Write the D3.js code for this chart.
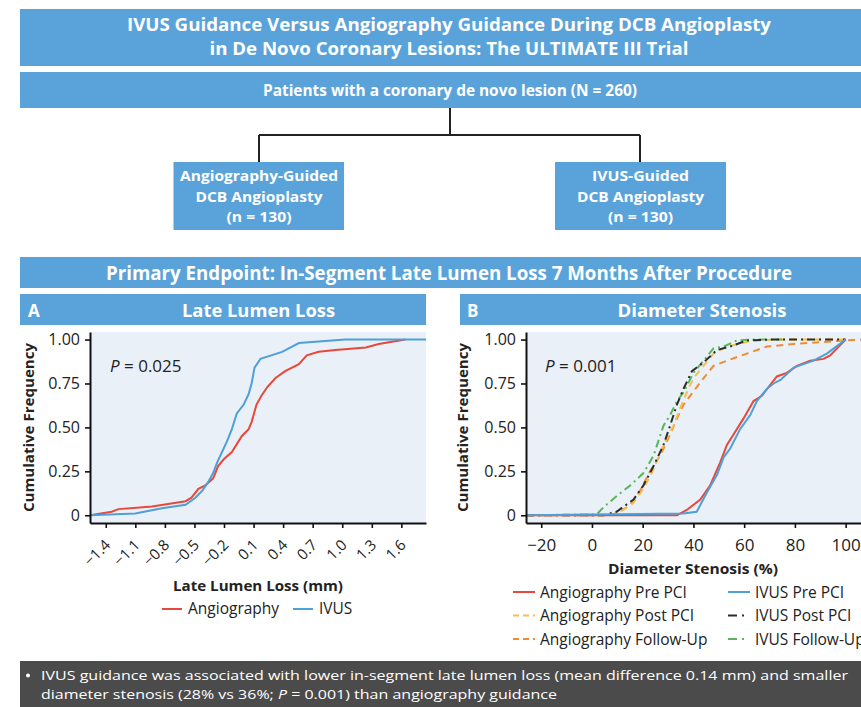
<!DOCTYPE html>
<html>
<head>
<meta charset="utf-8">
<script src="https://cdn.jsdelivr.net/npm/d3@7"></script>
<style>
  html, body { margin: 0; padding: 0; background: #fff; }
  svg { display: block; }
</style>
</head>
<body>
<div id="chart"></div>
<script>
// ---------------- DATA ----------------
// Panel A: Late lumen loss (mm) cumulative frequency
const llTicks = [-1.4, -1.1, -0.8, -0.5, -0.2, 0.1, 0.4, 0.7, 1.0, 1.3, 1.6];
const llAngiography = [
  [-1.56, 0], [-1.34, 0.02], [-1.27, 0.035], [-0.93, 0.05], [-0.59, 0.08], [-0.53, 0.10],
  [-0.46, 0.15], [-0.39, 0.17], [-0.31, 0.21], [-0.26, 0.28], [-0.20, 0.32], [-0.12, 0.36],
  [-0.02, 0.45], [0.05, 0.49], [0.08, 0.53], [0.13, 0.63], [0.18, 0.68], [0.24, 0.73],
  [0.32, 0.78], [0.42, 0.82], [0.56, 0.86], [0.64, 0.91], [0.76, 0.93], [0.93, 0.94],
  [1.24, 0.955], [1.37, 0.975], [1.64, 1.0]
];
const llIVUS = [
  [-1.56, 0], [-1.10, 0.01], [-0.83, 0.04], [-0.59, 0.06], [-0.49, 0.10], [-0.42, 0.14],
  [-0.36, 0.19], [-0.31, 0.24], [-0.27, 0.30], [-0.22, 0.36], [-0.17, 0.42], [-0.12, 0.49],
  [-0.07, 0.58], [0.00, 0.63], [0.05, 0.69], [0.08, 0.75], [0.11, 0.84], [0.17, 0.89],
  [0.39, 0.93], [0.56, 0.98], [1.03, 1.0], [1.85, 1.0]
];
const llSeries = ["Angiography", "IVUS"];

// Panel B: Diameter stenosis (%) cumulative frequency
const dsTicks = [-20, 0, 20, 40, 60, 80, 100];
const angioPre = [
  [-26, 0], [33.5, 0], [37.4, 0.03], [42.7, 0.09], [46.6, 0.17], [50.5, 0.30], [53.2, 0.40],
  [55.8, 0.46], [59.7, 0.55], [63.7, 0.65], [67, 0.68], [69.6, 0.73], [72.9, 0.79],
  [76.8, 0.81], [80.8, 0.85], [86, 0.88], [91.3, 0.89], [93.9, 0.91], [100, 1.0]
];
const ivusPre = [
  [-26, 0], [36, 0.01], [41.3, 0.02], [45.3, 0.13], [49.3, 0.23], [51.9, 0.33], [54.5, 0.38],
  [58.4, 0.49], [62.4, 0.57], [65, 0.65], [69, 0.72], [71.6, 0.75], [74.3, 0.77],
  [79.5, 0.84], [83.4, 0.86], [87.3, 0.88], [92.6, 0.92], [100, 1.0]
];
const angioPost = [
  [-26, 0], [8.4, 0.005], [12.3, 0.03], [16.3, 0.07], [20.3, 0.15], [24.2, 0.26], [28.2, 0.40],
  [32.2, 0.51], [34.8, 0.61], [37.4, 0.70], [40, 0.78], [44, 0.85], [47.9, 0.92],
  [53.2, 0.96], [63.7, 0.995], [75, 1.0], [100, 1.0]
];
const angioFollow = [
  [-26, 0], [7.2, 0], [11.1, 0.02], [15.1, 0.06], [19, 0.14], [22.9, 0.25], [26.9, 0.34],
  [30.8, 0.46], [33.5, 0.55], [36.1, 0.63], [38.7, 0.68], [44, 0.78], [47.9, 0.85],
  [53.2, 0.88], [61, 0.92], [68.9, 0.96], [79.5, 0.975], [90, 0.985], [103, 0.998], [110, 1.0]
];
const ivusPost = [
  [-26, 0], [4.5, 0], [9.7, 0.02], [16.4, 0.09], [20.3, 0.17], [24.3, 0.28], [28.2, 0.40],
  [30.8, 0.51], [33.5, 0.63], [36.1, 0.72], [39.4, 0.82], [44, 0.87], [49.2, 0.94],
  [54.4, 0.96], [61, 0.995], [70, 1.0], [100, 1.0]
];
const ivusFollow = [
  [-26, 0], [1.9, 0.005], [4.5, 0.045], [9.8, 0.11], [15.1, 0.17], [20.3, 0.24], [24.3, 0.34],
  [28.2, 0.51], [30.8, 0.57], [33.5, 0.65], [36.1, 0.70], [40, 0.81], [44, 0.88],
  [47.9, 0.95], [51.9, 0.96], [57.1, 0.995], [64, 1.0], [75, 1.0]
];
const dsSeriesNames = ["Angiography Pre PCI", "IVUS Pre PCI", "Angiography Post PCI",
  "IVUS Post PCI", "Angiography Follow-Up", "IVUS Follow-Up"];
const freqTicks = [0, 0.25, 0.5, 0.75, 1.0];

// ---------------- STYLE ----------------
const BLUE = "#5aa3da";
const PLOTBG = "#eaf0f8";
const RED = "#e8483b", LBLUE = "#4f9fd8", YEL = "#f6bf4c", ORG = "#f08a33", DARK = "#2d2d2d", GRN = "#5ab55c";
const HFONT = "'Open Sans','Noto Sans',sans-serif";
const CFONT = "'Open Sans','Noto Sans',sans-serif";

const W = 861, H = 707;
const svg = d3.select("#chart").append("svg").attr("width", W).attr("height", H);

function box(x, y, w, h, fill) {
  svg.append("rect").attr("x", x).attr("y", y).attr("width", w).attr("height", h).attr("fill", fill);
}
function label(x, y, txt, size, len, opts = {}) {
  const t = svg.append("text").attr("x", x).attr("y", y)
    .attr("text-anchor", opts.anchor || "middle")
    .attr("font-family", opts.font || HFONT)
    .attr("font-weight", opts.weight || "bold")
    .attr("font-size", size).attr("fill", opts.fill || "#fff").text(txt);
  if (len) t.attr("textLength", len).attr("lengthAdjust", "spacingAndGlyphs");
  return t;
}

// ---------------- HEADER / FLOW ----------------
box(20, 9, 841, 57, BLUE);
label(449, 31, "IVUS Guidance Versus Angiography Guidance During DCB Angioplasty", 18, 644);
label(449, 55, "in De Novo Coronary Lesions: The ULTIMATE III Trial", 18, 479);

box(20, 72, 841, 36, BLUE);
label(450, 96, "Patients with a coronary de novo lesion (N = 260)", 16, 374);

svg.append("path").attr("d", "M450,108V135M259,135H640M259,135V162M640,135V162")
  .attr("stroke", "#222").attr("stroke-width", 2).attr("fill", "none");

box(173.5, 162, 170.5, 68, BLUE);
box(555, 162, 171, 68, BLUE);
label(259, 181, "Angiography-Guided", 14.5, 158);
label(259, 201.5, "DCB Angioplasty", 14.5, 127);
label(259, 221.5, "(n = 130)", 14.5, 65);
label(640.5, 181, "IVUS-Guided", 14.5, 97);
label(640.5, 201.5, "DCB Angioplasty", 14.5, 127);
label(640.5, 221.5, "(n = 130)", 14.5, 65);

box(20, 257, 841, 31, BLUE);
label(449, 280, "Primary Endpoint: In-Segment Late Lumen Loss 7 Months After Procedure", 19.5, 686);

// panel headers
box(20, 294, 406, 31, BLUE);
box(460, 294, 401, 31, BLUE);
label(28, 317, "A", 17, null, { anchor: "start", font: CFONT });
label(258.5, 317, "Late Lumen Loss", 17.5, 153, { font: CFONT });
label(467, 317, "B", 17, null, { anchor: "start", font: CFONT });
label(702, 317, "Diameter Stenosis", 17.5, 169, { font: CFONT });

// ---------------- PANEL A ----------------
const plotTop = 332, plotBot = 523;
const xA = d3.scaleLinear().domain([-1.56, 1.85]).range([90, 426]);
const yA = d3.scaleLinear().domain([-0.044, 1.043]).range([plotBot, plotTop]);

function plotBg(x0, x1, id) {
  svg.append("rect").attr("x", x0).attr("y", plotTop).attr("width", x1 - x0).attr("height", plotBot - plotTop)
    .attr("fill", PLOTBG);
  svg.append("clipPath").attr("id", id).append("rect")
    .attr("x", x0).attr("y", plotTop - 3).attr("width", x1 - x0).attr("height", plotBot - plotTop + 3);
}
plotBg(90, 426, "clipA");

const lineA = d3.line().x(d => xA(d[0])).y(d => yA(d[1]));
const gA = svg.append("g").attr("clip-path", "url(#clipA)");
gA.append("path").datum(llAngiography).attr("d", lineA).attr("fill", "none").attr("stroke", RED).attr("stroke-width", 2);
gA.append("path").datum(llIVUS).attr("d", lineA).attr("fill", "none").attr("stroke", LBLUE).attr("stroke-width", 2);

function styleAxis(g) {
  g.select(".domain").attr("stroke", "#111").attr("stroke-width", 2);
  g.selectAll(".tick line").attr("stroke", "#111").attr("stroke-width", 1.6);
  g.selectAll("text").attr("font-family", CFONT).attr("fill", "#222");
}
const fmtFreq = d => d === 0 ? "0" : d3.format(".2f")(d);

const yAxA = svg.append("g").attr("transform", "translate(90,0)")
  .call(d3.axisLeft(yA).tickValues(freqTicks).tickFormat(fmtFreq).tickSize(5).tickSizeOuter(0).tickPadding(5));
styleAxis(yAxA);
yAxA.selectAll("text").attr("font-size", 16);

const xAxA = svg.append("g").attr("transform", `translate(0,${plotBot})`)
  .call(d3.axisBottom(xA).tickValues(llTicks).tickFormat(d3.format(".1f")).tickSize(5).tickSizeOuter(0));
styleAxis(xAxA);
xAxA.selectAll("text").attr("font-size", 15).attr("text-anchor", "end")
  .attr("x", 0).attr("y", 0).attr("dy", 0)
  .attr("transform", "translate(5,23) rotate(-45)");

svg.append("text").attr("x", 110).attr("y", 372).attr("font-family", CFONT).attr("font-size", 17).attr("fill", "#222")
  .call(t => { t.append("tspan").attr("font-style", "italic").text("P"); t.append("tspan").text(" = 0.025"); });

svg.append("text").attr("transform", "translate(34,427.5) rotate(-90)").attr("text-anchor", "middle")
  .attr("font-family", CFONT).attr("font-weight", "bold").attr("font-size", 15).attr("fill", "#222")
  .attr("textLength", 169).attr("lengthAdjust", "spacingAndGlyphs").text("Cumulative Frequency");

svg.append("text").attr("x", 258).attr("y", 591).attr("text-anchor", "middle")
  .attr("font-family", CFONT).attr("font-weight", "bold").attr("font-size", 15).attr("fill", "#222")
  .attr("textLength", 170).attr("lengthAdjust", "spacingAndGlyphs").text("Late Lumen Loss (mm)");

// legend A
const legA = [{ name: llSeries[0], color: RED, x: 162 }, { name: llSeries[1], color: LBLUE, x: 293 }];
legA.forEach(l => {
  svg.append("line").attr("x1", l.x).attr("x2", l.x + 20).attr("y1", 609).attr("y2", 609)
    .attr("stroke", l.color).attr("stroke-width", 2);
  svg.append("text").attr("x", l.x + 26).attr("y", 614).attr("font-family", CFONT).attr("font-size", 15.5)
    .attr("fill", "#222").text(l.name);
});

// ---------------- PANEL B ----------------
const xB = d3.scaleLinear().domain([-26, 110]).range([526, 871]);
const yB = yA.copy();
plotBg(526, 871, "clipB");

const lineB = d3.line().x(d => xB(d[0])).y(d => yB(d[1]));
const seriesB = [
  { name: dsSeriesNames[4], data: angioFollow, color: ORG, dash: "7,5" },
  { name: dsSeriesNames[2], data: angioPost, color: YEL, dash: "7,5" },
  { name: dsSeriesNames[5], data: ivusFollow, color: GRN, dash: "8,4,2,4" },
  { name: dsSeriesNames[3], data: ivusPost, color: DARK, dash: "8,4,2,4" },
  { name: dsSeriesNames[0], data: angioPre, color: RED, dash: null },
  { name: dsSeriesNames[1], data: ivusPre, color: LBLUE, dash: null }
];
const gB = svg.append("g").attr("clip-path", "url(#clipB)");
seriesB.forEach(s => {
  gB.append("path").datum(s.data).attr("d", lineB).attr("fill", "none")
    .attr("stroke", s.color).attr("stroke-width", 2).attr("stroke-dasharray", s.dash);
});

const yAxB = svg.append("g").attr("transform", "translate(526,0)")
  .call(d3.axisLeft(yB).tickValues(freqTicks).tickFormat(fmtFreq).tickSize(5).tickSizeOuter(0).tickPadding(5));
styleAxis(yAxB);
yAxB.selectAll("text").attr("font-size", 16);

const xAxB = svg.append("g").attr("transform", `translate(0,${plotBot})`)
  .call(d3.axisBottom(xB).tickValues(dsTicks).tickFormat(d3.format("d")).tickSize(5).tickSizeOuter(0).tickPadding(11));
styleAxis(xAxB);
xAxB.selectAll("text").attr("font-size", 17);

svg.append("text").attr("x", 545).attr("y", 372).attr("font-family", CFONT).attr("font-size", 17).attr("fill", "#222")
  .call(t => { t.append("tspan").attr("font-style", "italic").text("P"); t.append("tspan").text(" = 0.001"); });

svg.append("text").attr("transform", "translate(468,427.5) rotate(-90)").attr("text-anchor", "middle")
  .attr("font-family", CFONT).attr("font-weight", "bold").attr("font-size", 15).attr("fill", "#222")
  .attr("textLength", 169).attr("lengthAdjust", "spacingAndGlyphs").text("Cumulative Frequency");

svg.append("text").attr("x", 693).attr("y", 574).attr("text-anchor", "middle")
  .attr("font-family", CFONT).attr("font-weight", "bold").attr("font-size", 15).attr("fill", "#222")
  .attr("textLength", 170).attr("lengthAdjust", "spacingAndGlyphs").text("Diameter Stenosis (%)");

// legend B
const legB = [
  { s: seriesB[4], col: 0, row: 0 }, { s: seriesB[5], col: 1, row: 0 },
  { s: seriesB[1], col: 0, row: 1 }, { s: seriesB[3], col: 1, row: 1 },
  { s: seriesB[0], col: 0, row: 2 }, { s: seriesB[2], col: 1, row: 2 }
];
const legColX = [513, 728], legRowY = [592, 615.5, 639];
legB.forEach(l => {
  const x = legColX[l.col], y = legRowY[l.row];
  svg.append("line").attr("x1", x).attr("x2", x + 22).attr("y1", y).attr("y2", y)
    .attr("stroke", l.s.color).attr("stroke-width", 2)
    .attr("stroke-dasharray", l.s.dash ? (l.s.dash.split(",").length > 2 ? "9,5,2,6" : "6,4") : null);
  svg.append("text").attr("x", x + 27).attr("y", y + 5.5).attr("font-family", CFONT).attr("font-size", 15.5)
    .attr("fill", "#222").text(l.s.name);
});

// ---------------- BOTTOM NOTE ----------------
box(20, 661, 841, 46, "#4b4b4b");
svg.append("circle").attr("cx", 28).attr("cy", 675.5).attr("r", 2).attr("fill", "#fff");
label(41, 680, "IVUS guidance was associated with lower in-segment late lumen loss (mean difference 0.14 mm) and smaller",
  13.5, 807, { anchor: "start", weight: "normal" });
svg.append("text").attr("x", 41).attr("y", 698.5).attr("font-family", HFONT).attr("font-size", 13.5).attr("fill", "#fff")
  .attr("textLength", 516).attr("lengthAdjust", "spacingAndGlyphs")
  .call(t => {
    t.append("tspan").text("diameter stenosis (28% vs 36%; ");
    t.append("tspan").attr("font-style", "italic").text("P");
    t.append("tspan").text(" = 0.001) than angiography guidance");
  });
</script>
</body>
</html>
